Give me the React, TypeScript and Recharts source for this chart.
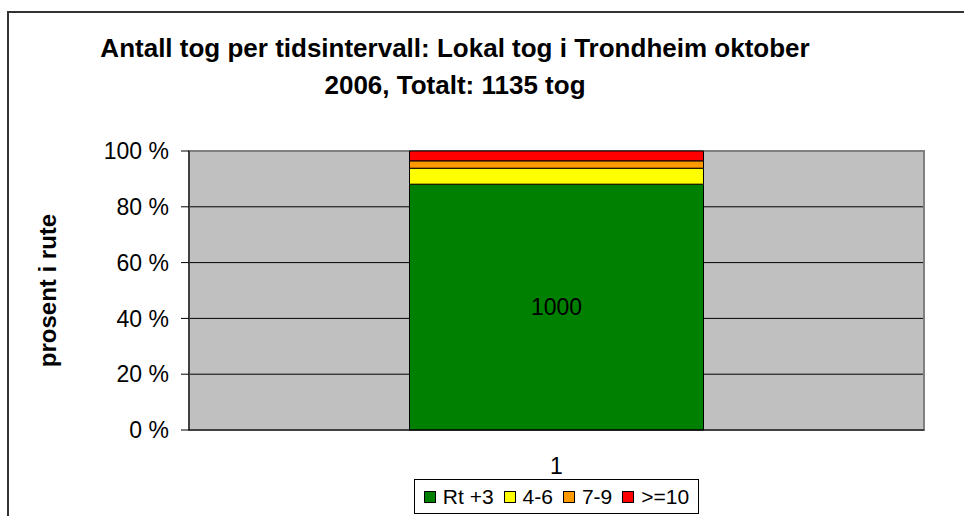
import React from 'react';
import {
  BarChart, Bar, XAxis, YAxis, CartesianGrid, Legend, LabelList, ReferenceArea,
} from 'recharts';

const categories = ['1'];
const seriesNames = ['Rt +3', '4-6', '7-9', '>=10'];
const rt3 = [1000];
const s46 = [65];
const s79 = [30];
const s10 = [40];
const yTicks = [0, 0.2, 0.4, 0.6, 0.8, 1];

const COLORS = ['#008000', '#FFFF00', '#FF9900', '#FF0000'];
const FONT = '"Liberation Sans", Arial, sans-serif';

const data = categories.map((c, i) => ({
  name: c,
  rt3: rt3[i],
  s46: s46[i],
  s79: s79[i],
  s10: s10[i],
}));
const keys = ['rt3', 's46', 's79', 's10'];

function LegendBox() {
  return (
    <div style={{ display: 'flex', justifyContent: 'center' }}>
      <div
        style={{
          display: 'flex', alignItems: 'center', border: '1px solid #000', height: 35, boxSizing: 'border-box',
          padding: '0 9px', marginTop: 3, fontFamily: FONT, fontSize: 21, color: '#000', background: '#fff',
        }}
      >
        {seriesNames.map((n, i) => (
          <span key={n} style={{ display: 'flex', alignItems: 'center', marginLeft: i ? 10 : 0 }}>
            <span style={{ width: 10, height: 10, background: COLORS[i], border: '1px solid #000', marginRight: 7, display: 'inline-block' }} />
            {n}
          </span>
        ))}
      </div>
    </div>
  );
}

export default function App() {
  return (
    <div style={{ position: 'absolute', left: 0, top: 0, width: 964, height: 516, background: '#fff', overflow: 'hidden', fontFamily: FONT }}>
      <div style={{ position: 'absolute', left: 7, top: 11, width: 1000, height: 600, borderLeft: '2px solid #333', borderTop: '2px solid #333' }} />
      <div
        style={{
          position: 'absolute', left: 40, width: 830, top: 30, textAlign: 'center',
          fontWeight: 'bold', fontSize: 26, lineHeight: '37px', color: '#000',
        }}
      >
        Antall tog per tidsintervall: Lokal tog i Trondheim oktober<br />2006, Totalt: 1135 tog
      </div>
      <div style={{ position: 'absolute', left: 0, top: 0 }}>
        <BarChart
          width={964}
          height={516}
          data={data}
          stackOffset="expand"
          barCategoryGap="30%"
          margin={{ top: 151, right: 40, bottom: 0, left: 0 }}
        >
          <CartesianGrid fill="#C0C0C0" vertical={false} stroke="#000" horizontalValues={[0.2, 0.4, 0.6, 0.8]} />
          <ReferenceArea y1={0} y2={1} fill="none" stroke="#808080" strokeWidth={2} />
          <XAxis
            xAxisId="edges"
            type="number"
            domain={[0, 1]}
            ticks={[0, 1]}
            height={0}
            tick={false}
            axisLine={false}
            tickLine={{ stroke: '#000' }}
            tickSize={9}
          />
          <XAxis
            dataKey="name"
            height={46}
            tickLine={false}
            axisLine={{ stroke: '#000' }}
            tick={{ fill: '#000', fontSize: 23, fontFamily: FONT }}
            tickMargin={22}
          />
          <YAxis
            width={189}
            domain={[0, 1]}
            ticks={yTicks}
            tickFormatter={(v: number) => `${Math.round(v * 100)} %`}
            tickSize={8}
            tickMargin={12}
            axisLine={{ stroke: '#000' }}
            tickLine={{ stroke: '#000' }}
            tick={{ fill: '#000', fontSize: 23, fontFamily: FONT }}
            label={({ viewBox }: any) => (
              <text
                x={56}
                y={viewBox.y + viewBox.height / 2}
                transform={`rotate(-90, 56, ${viewBox.y + viewBox.height / 2})`}
                textAnchor="middle"
                fontWeight="bold"
                fontSize={24}
                fontFamily={FONT}
                fill="#000"
              >
                prosent i rute
              </text>
            )}
          />
          {keys.map((k, i) => (
            <Bar key={k} dataKey={k} name={seriesNames[i]} stackId="a" fill={COLORS[i]} stroke="#000" strokeWidth={1} isAnimationActive={false}>
              {i === 0 && (
                <LabelList dataKey={k} position="center" fill="#000" fontSize={23} fontFamily={FONT} />
              )}
            </Bar>
          ))}
          <Legend
            verticalAlign="bottom"
            height={40}
            content={() => <LegendBox />}
            wrapperStyle={{ left: 189, width: 735 }}
          />
        </BarChart>
      </div>
    </div>
  );
}
